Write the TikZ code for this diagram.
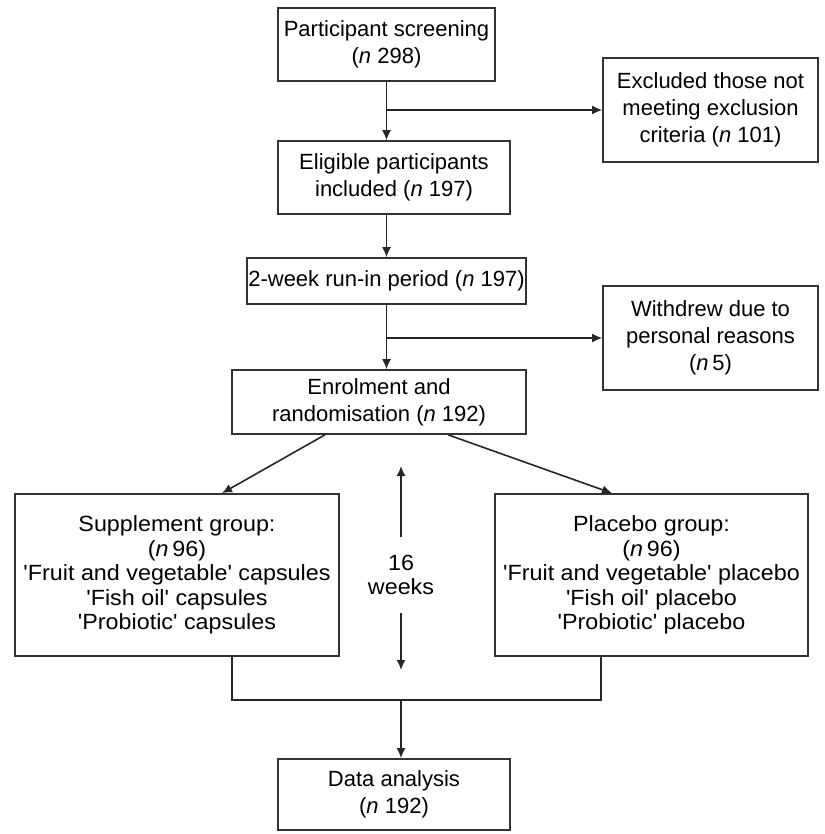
\documentclass[tikz,border=0pt]{standalone}
\usepackage{fontspec}
\setmainfont{Liberation Sans}
\newfontfamily\grpfont[FakeStretch=1.06]{Liberation Sans}
\usetikzlibrary{arrows.meta}

\begin{document}
\begin{tikzpicture}[x=1pt, y=-1pt,
        box/.style = {draw=black!80, line width=1.6pt, align=center, inner sep=0pt,
            font=\fontsize{22}{27}\selectfont},
        grp/.style = {box, font=\grpfont\fontsize{22}{24.5}\selectfont},
        arr/.style = {draw=black!85, line width=1.6pt, -{Latex[length=10pt,width=9pt]}}]
                \useasboundingbox (0,0) rectangle (824,834);

                \node[box, minimum width=217pt, minimum height=73pt] at (386.5,44.5) (scr)
                    {Participant screening\\(\textit{n} 298)};
                \node[box, minimum width=215pt, minimum height=104pt] at (710.5,110) (excl)
                    {Excluded those not\\meeting exclusion\\criteria (\textit{n} 101)};
                \node[box, minimum width=232pt, minimum height=73pt] at (394,177.5) (elig)
                    {Eligible participants\\included (\textit{n} 197)};
                \node[box, minimum width=279pt, minimum height=46pt] at (386.5,281) (runin)
                    {2-week run-in period (\textit{n} 197)};
                \node[box, minimum width=215pt, minimum height=104pt] at (710.5,338) (wd)
                    {Withdrew due to\\personal reasons\\(\textit{n}\,5)};
                \node[box, minimum width=294pt, minimum height=64pt] at (379,402) (enrol)
                    {Enrolment and\\randomisation (\textit{n} 192)};
                \node[grp, minimum width=324pt, minimum height=162pt] at (177,575) (supp)
                    {Supplement group:\\(\textit{n}\,96)\\'Fruit and vegetable' capsules\\'Fish oil' capsules\\'Probiotic' capsules};
                \node[grp, minimum width=313pt, minimum height=162pt] at (651.5,575) (plac)
                    {Placebo group:\\(\textit{n}\,96)\\'Fruit and vegetable' placebo\\'Fish oil' placebo\\'Probiotic' placebo};
                \node[grp, draw=none, minimum height=74pt] at (401,575) (wk) {16\\weeks};
                \node[box, minimum width=232pt, minimum height=71pt] at (394,794.5) (data)
                    {Data analysis\\(\textit{n} 192)};

                \coordinate (wtop) at (401,466);
                \coordinate (wbot) at (401,670);
                \coordinate (join) at (401,700);

                \draw [arr] (scr.south) -- (scr.south |- elig.north);
                \draw [arr] (scr.south |- excl.west) -- (excl.west);
                \draw [arr] (scr.south |- elig.south) -- (runin.north);
                \draw [arr] (runin.south) -- (runin.south |- enrol.north);
                \draw [arr] (runin.south |- wd.west) -- (wd.west);

                \draw [arr] ([xshift=-54pt]enrol.south) -- ([xshift=45pt]supp.north);
                \draw [arr] ([xshift=69pt]enrol.south) -- ([xshift=-39.5pt]plac.north);

                \draw [arr] (wk.north) -- (wtop);
                \draw [arr] (wk.south) -- (wbot);

                \draw [draw=black!85, line width=1.6pt] ([xshift=55pt]supp.south) |- (join)
                    -| ([xshift=-50.5pt]plac.south);
                \draw [arr] (join) -- (join |- data.north);
            \end{tikzpicture}
\end{document}
